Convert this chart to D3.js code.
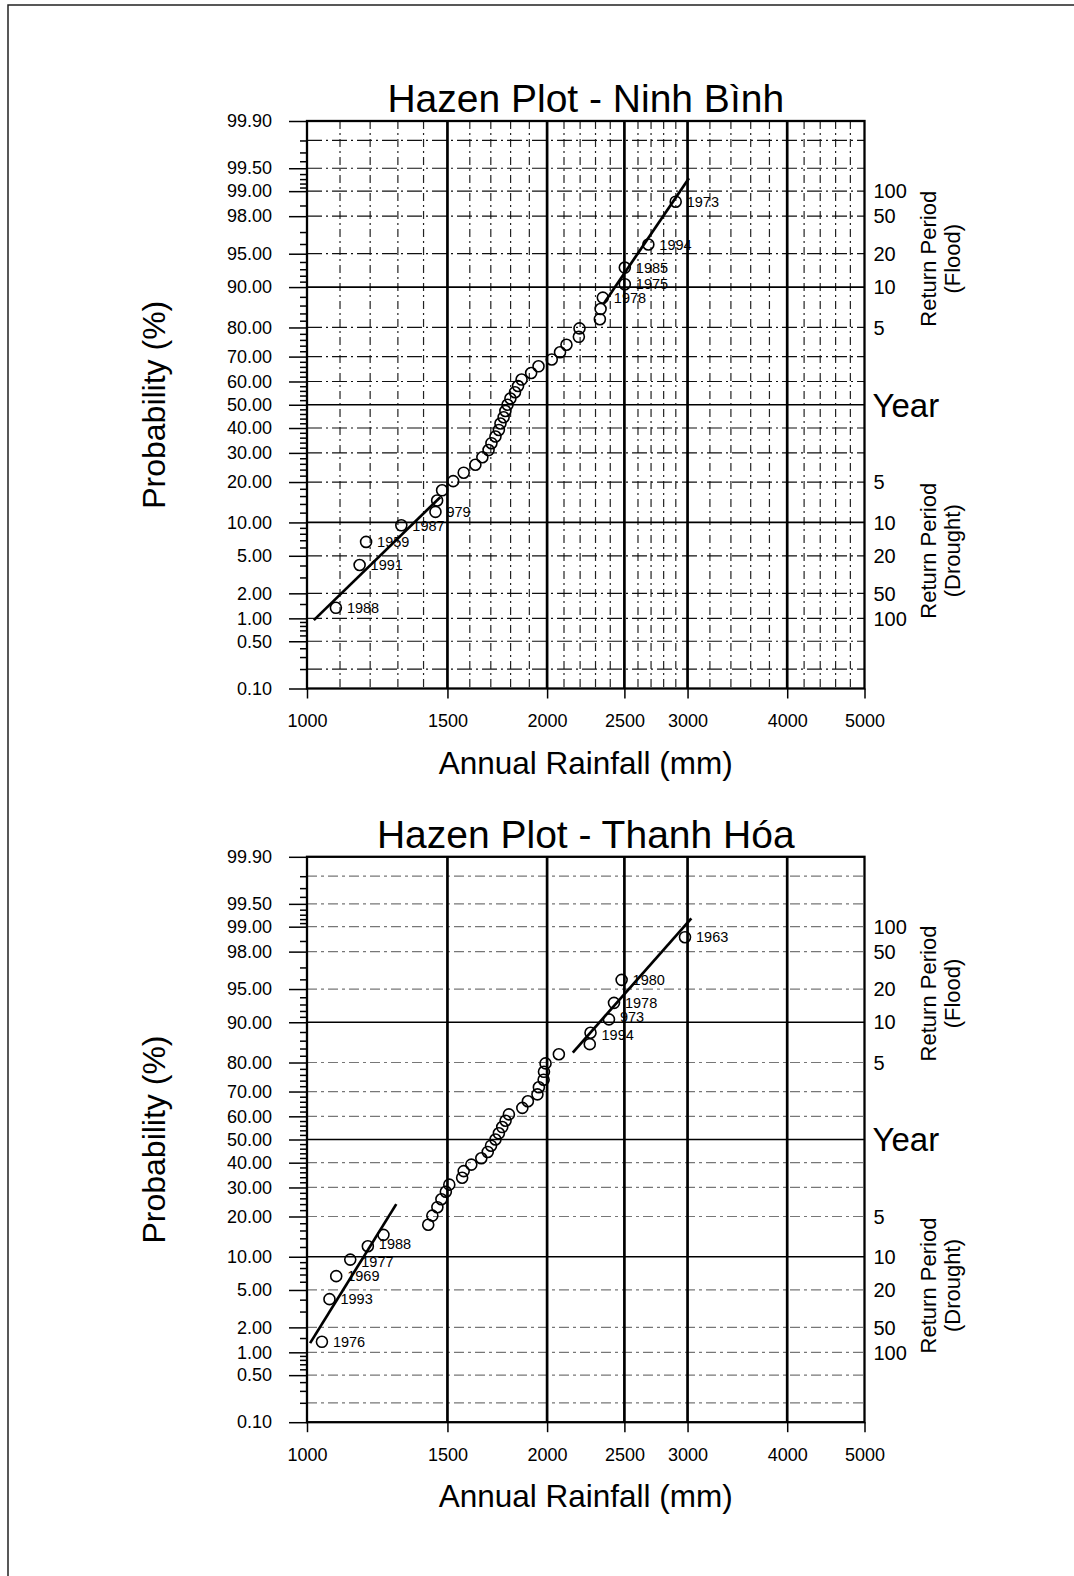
<!DOCTYPE html>
<html>
<head>
<meta charset="utf-8">
<script src="https://cdn.jsdelivr.net/npm/d3@7"></script>
<style>
  body { margin: 0; background: #fff; }
  svg { display: block; font-family: "Liberation Sans", Arial, sans-serif; }
</style>
</head>
<body>
<div class="chart_Container"></div>
<script>
// ---- data ----
// plotting position (%) of each ranked year, same for both stations (37 years)
const plotProb = [1.35, 4.05, 6.76, 9.46, 12.16, 14.86, 17.57, 20.27, 22.97, 25.68,
  28.38, 31.08, 33.78, 36.49, 39.19, 41.89, 44.59, 47.30, 50.00, 52.70,
  55.41, 58.11, 60.81, 63.51, 66.22, 68.92, 71.62, 74.32, 77.03, 79.73,
  82.43, 85.14, 87.84, 90.54, 93.24, 95.95, 98.65];

// annual rainfall (mm), ranked low -> high
const ninhBinhRain = [1087, 1164, 1186, 1313, 1449, 1456, 1477, 1525, 1572, 1626,
  1659, 1689, 1703, 1723, 1740, 1748, 1764, 1773, 1784, 1799,
  1823, 1839, 1858, 1910, 1951, 2027, 2076, 2115, 2192, 2196,
  2329, 2334, 2349, 2503, 2503, 2679, 2899];
const thanhHoaRain = [1044, 1067, 1088, 1133, 1192, 1247, 1419, 1436, 1457, 1474,
  1493, 1508, 1565, 1572, 1607, 1654, 1685, 1701, 1723, 1740,
  1757, 1774, 1791, 1862, 1892, 1945, 1953, 1980, 1982, 1991,
  2069, 2262, 2267, 2391, 2426, 2480, 2978];

// labelled years (rank is 1-based)
const ninhBinhLabelRank = [1, 2, 3, 4, 5, 33, 34, 35, 36, 37];
const ninhBinhLabelText = ["1988", "1991", "1959", "1987", "979", "1978", "1975", "1985", "1994", "1973"];
const thanhHoaLabelRank = [1, 2, 3, 4, 5, 33, 34, 35, 36, 37];
const thanhHoaLabelText = ["1976", "1993", "1969", "1977", "1988", "1994", "973", "1978", "1980", "1963"];

// fitted lines: [rainfall, probability]
const ninhBinhFitLow = [[1020, 0.95], [1469, 15.7]];
const ninhBinhFitHigh = [[2356, 86.5], [3012, 99.32]];
const thanhHoaFitLow = [[1009, 1.30], [1294, 24.0]];
const thanhHoaFitHigh = [[2154, 82.9], [3033, 99.22]];

// axes / grid
const xTicks = [1000, 1500, 2000, 2500, 3000, 4000, 5000];
const xThick = [1500, 2000, 2500, 3000, 4000];
const xMinor = [1100, 1200, 1300, 1400, 1600, 1700, 1800, 1900, 2100, 2200, 2300, 2400,
  2600, 2700, 2800, 2900, 3200, 3400, 3600, 3800, 4200, 4400, 4600, 4800];
const probTicks = [0.1, 0.5, 1, 2, 5, 10, 20, 30, 40, 50, 60, 70, 80, 90, 95, 98, 99, 99.5, 99.9];
const probSolid = [10, 50, 90];
const probDashed = [0.2, 0.5, 1, 2, 5, 20, 30, 40, 60, 70, 80, 95, 98, 99, 99.5, 99.8];
const probMinor = [0.2, 0.3, 0.4, 0.6, 0.7, 0.8, 0.9, 1.5, 3, 4, 6, 7, 8, 9,
  12, 14, 16, 18, 22, 24, 26, 28, 32, 34, 36, 38, 42, 44, 46, 48, 52, 54, 56, 58,
  62, 64, 66, 68, 72, 74, 76, 78, 82, 84, 86, 88, 91, 92, 93, 94, 96, 97, 98.5,
  99.1, 99.2, 99.3, 99.4, 99.6, 99.7, 99.8];
const floodYears = [100, 50, 20, 10, 5];
const droughtYears = [5, 10, 20, 50, 100];

const width = 1074, height = 1576;
const plotLeft = 307, plotRight = 864.5;

// inverse normal cdf (Acklam) for the probability paper
function probit(p) {
  const a = [-3.969683028665376e+01, 2.209460984245205e+02, -2.759285104469687e+02, 1.383577518672690e+02, -3.066479806614716e+01, 2.506628277459239e+00];
  const b = [-5.447609879822406e+01, 1.615858368580409e+02, -1.556989798598866e+02, 6.680131188771972e+01, -1.328068155288572e+01];
  const c = [-7.784894002430293e-03, -3.223964580411365e-01, -2.400758277161838e+00, -2.549671348433893e+00, 4.374664141464968e+00, 2.938163982698783e+00];
  const d = [7.784695709041462e-03, 3.224671290700398e-01, 2.445134137142996e+00, 3.754408661907416e+00];
  const pl = 0.02425;
  let q, r;
  if (p < pl) {
    q = Math.sqrt(-2 * Math.log(p));
    return (((((c[0]*q+c[1])*q+c[2])*q+c[3])*q+c[4])*q+c[5]) / ((((d[0]*q+d[1])*q+d[2])*q+d[3])*q+1);
  }
  if (p <= 1 - pl) {
    q = p - 0.5; r = q * q;
    return (((((a[0]*r+a[1])*r+a[2])*r+a[3])*r+a[4])*r+a[5])*q / (((((b[0]*r+b[1])*r+b[2])*r+b[3])*r+b[4])*r+1);
  }
  q = Math.sqrt(-2 * Math.log(1 - p));
  return -(((((c[0]*q+c[1])*q+c[2])*q+c[3])*q+c[4])*q+c[5]) / ((((d[0]*q+d[1])*q+d[2])*q+d[3])*q+1);
}

const svg = d3.select('.chart_Container')
  .append('svg')
  .attr('width', width)
  .attr('height', height);

svg.append('rect').attr('width', width).attr('height', height).attr('fill', '#fff');

// scanned page frame
svg.append('path')
  .attr('d', `M1074,5 H8 V1576`)
  .attr('fill', 'none')
  .attr('stroke', '#222')
  .attr('stroke-width', 1.5);

function hazenPlot(cfg) {
  const top = cfg.top, bottom = cfg.bottom;
  const x = d3.scaleLog().domain([1000, 5000]).range([plotLeft, plotRight]);
  const z = d3.scaleLinear().domain([probit(0.001), probit(0.999)]).range([bottom, top]);
  const y = p => z(probit(p / 100));
  const g = svg.append('g');

  // minor vertical grid (only the upper chart has it printed)
  if (cfg.denseGrid) {
    g.selectAll('.vminor').data(xMinor).join('line')
      .attr('x1', d => x(d)).attr('x2', d => x(d))
      .attr('y1', top).attr('y2', bottom)
      .attr('stroke', '#222').attr('stroke-width', 1.2)
      .attr('stroke-dasharray', '8,4,2,4');
  }

  g.selectAll('.hdash').data(probDashed).join('line')
    .attr('x1', plotLeft).attr('x2', plotRight)
    .attr('y1', d => y(d)).attr('y2', d => y(d))
    .attr('stroke', cfg.dashColor).attr('stroke-width', 1.2)
    .attr('stroke-dasharray', cfg.dashPattern);

  g.selectAll('.hsolid').data(probSolid).join('line')
    .attr('x1', plotLeft).attr('x2', plotRight)
    .attr('y1', d => y(d)).attr('y2', d => y(d))
    .attr('stroke', '#000').attr('stroke-width', 1.7);

  g.selectAll('.vthick').data(xThick).join('line')
    .attr('x1', d => x(d)).attr('x2', d => x(d))
    .attr('y1', top).attr('y2', bottom)
    .attr('stroke', '#000').attr('stroke-width', 2.7);

  g.append('rect')
    .attr('x', plotLeft).attr('y', top)
    .attr('width', plotRight - plotLeft).attr('height', bottom - top)
    .attr('fill', 'none').attr('stroke', '#000').attr('stroke-width', 2.3);

  // axes
  const yMinorAxis = d3.axisLeft(z)
    .tickValues(probMinor.map(p => probit(p / 100)))
    .tickSize(7).tickFormat('');
  const yAxis = d3.axisLeft(z)
    .tickValues(probTicks.map(p => probit(p / 100)))
    .tickSize(18).tickPadding(17)
    .tickFormat((d, i) => d3.format('.2f')(probTicks[i]));
  const xAxis = d3.axisBottom(x)
    .tickValues(xTicks)
    .tickSize(10).tickPadding(16)
    .tickFormat(d3.format('d'));

  [yMinorAxis, yAxis].forEach(ax => {
    const a = g.append('g').attr('transform', `translate(${plotLeft},0)`).call(ax);
    a.select('.domain').remove();
  });
  const xa = g.append('g').attr('transform', `translate(0,${bottom})`).call(xAxis);
  xa.select('.domain').remove();

  g.selectAll('.tick line').attr('stroke', '#000').attr('stroke-width', 1.5);
  g.selectAll('.tick text')
    .attr('font-size', 18).attr('fill', '#000')
    .attr('font-family', '"Liberation Sans", Arial, sans-serif');

  // fitted lines
  const line = d3.line().x(d => x(d[0])).y(d => y(d[1]));
  [cfg.fitLow, cfg.fitHigh].forEach(f => {
    g.append('path').datum(f)
      .attr('d', line)
      .attr('fill', 'none').attr('stroke', '#000').attr('stroke-width', 2.7);
  });

  // observations
  const pts = cfg.rain.map((r, i) => ({ r: r, p: plotProb[i] }));
  g.selectAll('.obs').data(pts).join('circle')
    .attr('cx', d => x(d.r)).attr('cy', d => y(d.p)).attr('r', 5.5)
    .attr('fill', 'none').attr('stroke', '#000').attr('stroke-width', 1.6);

  // year labels; neighbours that sit 13px apart are spread by a couple of px
  const labs = cfg.labelRank.map((k, i) => ({ r: cfg.rain[k - 1], p: plotProb[k - 1], t: cfg.labelText[i], k: k }));
  g.selectAll('.lab').data(labs).join('text')
    .attr('x', d => x(d.r) + 11)
    .attr('y', d => y(d.p) + (cfg.spread && (d.k === 4 || d.k === 33) ? 2.5 : 0)
                          - (cfg.spread && (d.k === 5 || d.k === 34) ? 2.5 : 0))
    .attr('dy', '0.36em')
    .attr('font-size', 14.5).attr('fill', '#000')
    .text(d => d.t);

  // titles
  const cx = (plotLeft + plotRight) / 2;
  g.append('text').attr('x', cx).attr('y', top - 9)
    .attr('text-anchor', 'middle').attr('font-size', 39).attr('fill', '#000')
    .text(cfg.title);
  g.append('text').attr('x', cx).attr('y', bottom + 85)
    .attr('text-anchor', 'middle').attr('font-size', 31.5).attr('fill', '#000')
    .text('Annual Rainfall (mm)');
  g.append('text')
    .attr('transform', `translate(154,${z(0)}) rotate(-90)`)
    .attr('text-anchor', 'middle').attr('dy', '0.35em')
    .attr('font-size', 32).attr('fill', '#000')
    .text('Probability (%)');

  // return period scale on the right
  const rx = plotRight + 9;
  g.selectAll('.flood').data(floodYears).join('text')
    .attr('x', rx).attr('y', d => y(100 * (1 - 1 / d)))
    .attr('dy', '0.36em').attr('font-size', 20).attr('fill', '#000')
    .text(d => d);
  g.selectAll('.drought').data(droughtYears).join('text')
    .attr('x', rx).attr('y', d => y(100 / d))
    .attr('dy', '0.36em').attr('font-size', 20).attr('fill', '#000')
    .text(d => d);
  g.append('text').attr('x', rx - 1).attr('y', z(0))
    .attr('dy', '0.36em').attr('font-size', 33).attr('fill', '#000')
    .text('Year');

  [['(Flood)', -146], ['(Drought)', 146]].forEach(([sub, off]) => {
    const t = g.append('g')
      .attr('transform', `translate(928,${z(0) + off}) rotate(-90)`);
    t.append('text').attr('text-anchor', 'middle').attr('dy', '0.35em')
      .attr('font-size', 22).attr('fill', '#000').text('Return Period');
    t.append('text').attr('text-anchor', 'middle').attr('y', 24).attr('dy', '0.35em')
      .attr('font-size', 22).attr('fill', '#000').text(sub);
  });
}

hazenPlot({
  title: 'Hazen Plot - Ninh Bình', top: 121, bottom: 688.5,
  rain: ninhBinhRain, labelRank: ninhBinhLabelRank, labelText: ninhBinhLabelText,
  fitLow: ninhBinhFitLow, fitHigh: ninhBinhFitHigh, spread: false,
  denseGrid: true, dashColor: '#111', dashPattern: '15,4,2,4'
});

hazenPlot({
  title: 'Hazen Plot - Thanh Hóa', top: 856.8, bottom: 1422.2,
  rain: thanhHoaRain, labelRank: thanhHoaLabelRank, labelText: thanhHoaLabelText,
  fitLow: thanhHoaFitLow, fitHigh: thanhHoaFitHigh, spread: true,
  denseGrid: false, dashColor: '#777', dashPattern: '10,4,3,4'
});
</script>
</body>
</html>
